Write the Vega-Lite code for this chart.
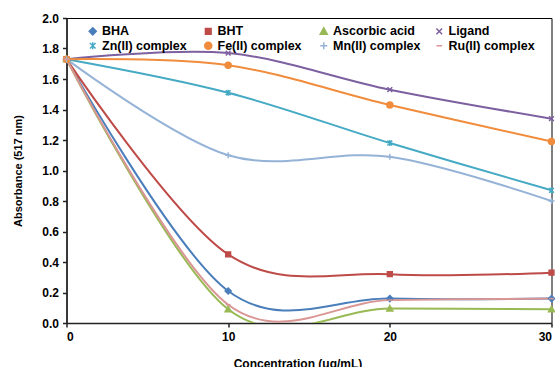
{
  "$schema": "https://vega.github.io/schema/vega-lite/v6.json",
  "width": 485,
  "height": 305,
  "autosize": "none",
  "padding": {"left": 66.5, "top": 18, "right": 3.5, "bottom": 44},
  "background": "white",
  "config": {
    "view": {"stroke": "#000000", "strokeWidth": 1},
    "font": "Liberation Sans",
    "axis": {
      "grid": false,
      "domainColor": "#222222",
      "domainWidth": 1.5,
      "tickColor": "#222222",
      "tickWidth": 1.5,
      "tickSize": 4,
      "labelOverlap": false,
      "labelFont": "Liberation Sans",
      "labelFontSize": 12,
      "labelFontWeight": "bold",
      "labelColor": "#000000",
      "titleFont": "Liberation Sans",
      "titleFontWeight": "bold",
      "titleColor": "#000000"
    },
    "legend": {
      "orient": "none",
      "legendX": 20,
      "legendY": 7,
      "columns": 4,
      "direction": "horizontal",
      "gridAlign": "all",
      "columnPadding": 10.5,
      "rowPadding": 0.5,
      "padding": 0,
      "symbolSize": 50,
      "symbolStrokeWidth": 1.5,
      "labelFont": "Liberation Sans",
      "labelFontSize": 12.5,
      "labelFontWeight": "bold",
      "labelColor": "#000000",
      "labelOffset": 3,
      "labelLimit": 200
    }
  },
  "data": {
    "values": [
      {"series": "BHA", "conc": 0, "abs": 1.73},
      {"series": "BHA", "conc": 10, "abs": 0.21},
      {"series": "BHA", "conc": 20, "abs": 0.16},
      {"series": "BHA", "conc": 30, "abs": 0.16},
      {"series": "BHT", "conc": 0, "abs": 1.73},
      {"series": "BHT", "conc": 10, "abs": 0.45},
      {"series": "BHT", "conc": 20, "abs": 0.32},
      {"series": "BHT", "conc": 30, "abs": 0.33},
      {"series": "Ascorbic acid", "conc": 0, "abs": 1.73},
      {"series": "Ascorbic acid", "conc": 10, "abs": 0.09},
      {"series": "Ascorbic acid", "conc": 20, "abs": 0.095},
      {"series": "Ascorbic acid", "conc": 30, "abs": 0.09},
      {"series": "Ligand", "conc": 0, "abs": 1.73},
      {"series": "Ligand", "conc": 10, "abs": 1.77},
      {"series": "Ligand", "conc": 20, "abs": 1.53},
      {"series": "Ligand", "conc": 30, "abs": 1.34},
      {"series": "Zn(II) complex", "conc": 0, "abs": 1.73},
      {"series": "Zn(II) complex", "conc": 10, "abs": 1.51},
      {"series": "Zn(II) complex", "conc": 20, "abs": 1.18},
      {"series": "Zn(II) complex", "conc": 30, "abs": 0.87},
      {"series": "Fe(II) complex", "conc": 0, "abs": 1.73},
      {"series": "Fe(II) complex", "conc": 10, "abs": 1.69},
      {"series": "Fe(II) complex", "conc": 20, "abs": 1.43},
      {"series": "Fe(II) complex", "conc": 30, "abs": 1.19},
      {"series": "Mn(II) complex", "conc": 0, "abs": 1.73},
      {"series": "Mn(II) complex", "conc": 10, "abs": 1.10},
      {"series": "Mn(II) complex", "conc": 20, "abs": 1.09},
      {"series": "Mn(II) complex", "conc": 30, "abs": 0.80},
      {"series": "Ru(II) complex", "conc": 0, "abs": 1.73},
      {"series": "Ru(II) complex", "conc": 10, "abs": 0.12},
      {"series": "Ru(II) complex", "conc": 20, "abs": 0.15},
      {"series": "Ru(II) complex", "conc": 30, "abs": 0.16}
    ]
  },
  "layer": [
    {
      "mark": {"type": "line", "interpolate": "cardinal", "clip": true, "strokeWidth": 2},
      "encoding": {
        "x": {
          "field": "conc", "type": "quantitative",
          "scale": {"domain": [0, 30], "nice": false},
          "axis": {"values": [0, 10, 20, 30], "tickCount": 4, "title": "Concentration (ug/mL)", "titleFontSize": 12, "titleX": 231, "titlePadding": 16, "labelPadding": 4}
        },
        "y": {
          "field": "abs", "type": "quantitative",
          "scale": {"domain": [0, 2], "nice": false},
          "axis": {"values": [0, 0.2, 0.4, 0.6, 0.8, 1, 1.2, 1.4, 1.6, 1.8, 2], "tickCount": 11, "labelOverlap": false, "format": ".1f", "title": "Absorbance (517 nm)", "titleFontSize": 11, "titlePadding": 18, "labelPadding": 4}
        },
        "color": {
          "field": "series", "type": "nominal",
          "scale": {
            "domain": ["BHA", "BHT", "Ascorbic acid", "Ligand", "Zn(II) complex", "Fe(II) complex", "Mn(II) complex", "Ru(II) complex"],
            "range": ["#4A7EBB", "#BE4B48", "#98B954", "#7D60A0", "#46AAC5", "#F08C3C", "#95B3D7", "#D99694"]
          },
          "legend": {"title": null}
        }
      }
    },
    {
      "mark": {"type": "point", "filled": true, "size": 36, "opacity": 1, "strokeWidth": 1.5},
      "encoding": {
        "x": {"field": "conc", "type": "quantitative"},
        "y": {"field": "abs", "type": "quantitative"},
        "color": {"field": "series", "type": "nominal", "legend": {"title": null}},
        "stroke": {
          "field": "series", "type": "nominal",
          "scale": {
            "domain": ["BHA", "BHT", "Ascorbic acid", "Ligand", "Zn(II) complex", "Fe(II) complex", "Mn(II) complex", "Ru(II) complex"],
            "range": ["#4A7EBB", "#BE4B48", "#98B954", "#7D60A0", "#46AAC5", "#F08C3C", "#95B3D7", "#D99694"]
          },
          "legend": null
        },
        "shape": {
          "field": "series", "type": "nominal",
          "scale": {
            "domain": ["BHA", "BHT", "Ascorbic acid", "Ligand", "Zn(II) complex", "Fe(II) complex", "Mn(II) complex", "Ru(II) complex"],
            "range": ["M0,-1L1,0L0,1L-1,0Z", "M-0.8,-0.8H0.8V0.8H-0.8Z", "M0,-1L1,0.8H-1Z", "M-0.8,-0.8L0.8,0.8M-0.8,0.8L0.8,-0.8", "M-0.8,-0.8L0.8,0.8M-0.8,0.8L0.8,-0.8M0,-1V1", "M1,0A1,1,0,1,1,-1,0A1,1,0,1,1,1,0Z", "M-1,0H1M0,-1V1", "M-0.8,0H0.8"]
          },
          "legend": null
        }
      }
    }
  ]
}
